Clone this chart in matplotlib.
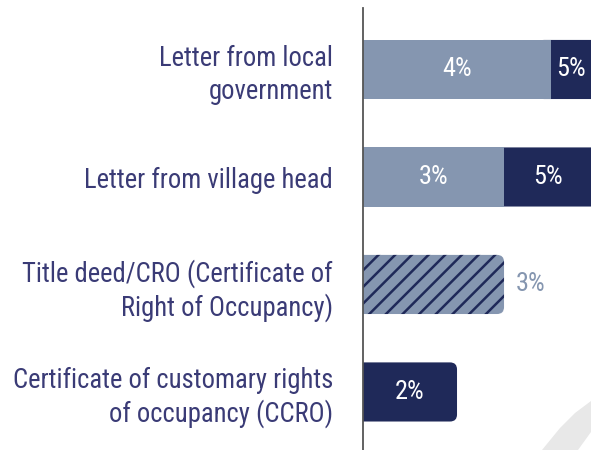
import matplotlib
matplotlib.use("Agg")
import matplotlib.pyplot as plt
from matplotlib.patches import FancyBboxPatch, Polygon

categories = ["Letter from local\ngovernment",
              "Letter from village head",
              "Title deed/CRO (Certificate of\nRight of Occupancy)",
              "Certificate of customary rights\nof occupancy (CCRO)"]
light_vals = [4, 3, 0, 0]
dark_vals = [5, 5, 0, 2]
hatched_vals = [0, 0, 3, 0]

LIGHT = "#8596b0"
DARK = "#1f2959"
TEXT = "#3a3b76"
FONT = ["Roboto Condensed", "Roboto", "DejaVu Sans"]

plt.rcParams["font.family"] = FONT
plt.rcParams["hatch.linewidth"] = 1.8

W, H = 591, 450
fig = plt.figure(figsize=(W / 100, H / 100), dpi=100)
ax_left = 363 / W
ax = fig.add_axes([ax_left, 0, 1 - ax_left, 1 - 8 / H])

XMAX = 4.85
ax.set_xlim(0, XMAX)
ax.set_ylim(3.54, -0.572)

y = list(range(len(categories)))
bh = 0.55

px_per_x = (1 - ax_left) * W / XMAX
px_per_y = (1 - 8 / H) * H / (3.54 + 0.572)
radius_px = 7
rx = radius_px / px_per_x
aspect = (1 / px_per_y) / (1 / px_per_x)


def rounded(x0, yc, w, color, hatch=None, edge=None):
    # extend the left end under the previous segment / axis so only the
    # right-hand corners show as rounded
    start = x0 - rx * 2
    width = w + (x0 - start)
    p = FancyBboxPatch((start, yc - bh / 2), width, bh,
                       boxstyle=f"round,pad=0,rounding_size={rx}",
                       mutation_aspect=aspect, facecolor=color,
                       edgecolor=edge if edge else color,
                       linewidth=0, hatch=hatch, clip_on=True, zorder=1)
    ax.add_patch(p)
    return p


PCT = 19
for i in y:
    lv, dv, hv = light_vals[i], dark_vals[i], hatched_vals[i]
    left = 0
    if lv:
        last = not (dv or hv)
        if last:
            rounded(0, i, lv, LIGHT)
        else:
            ax.barh(i, lv, left=0, height=bh, color=LIGHT, linewidth=0,
                    zorder=2)
        ax.text((0 + min(lv, XMAX)) / 2, i, f"{lv}%", ha="center", va="center",
                color="white", fontsize=PCT, zorder=3)
        left = lv
    if hv:
        rounded(left, i, hv, LIGHT, hatch="//", edge=DARK)
        ax.text(left + hv + 12 / px_per_x, i, f"{hv}%", ha="left", va="center",
                color=LIGHT, fontsize=PCT, zorder=3)
        left += hv
    if dv:
        rounded(left, i, dv, DARK)
        ax.text((left + min(left + dv, XMAX)) / 2, i, f"{dv}%", ha="center",
                va="center", color="white", fontsize=PCT, zorder=3)
        left += dv

ax.set_yticks(y)
ax.set_yticklabels(categories, fontsize=19.2, color=TEXT, linespacing=1.24)
ax.tick_params(axis="y", length=0, pad=30 * 0.72)
ax.set_xticks([])
for s in ["top", "right", "bottom"]:
    ax.spines[s].set_visible(False)
ax.spines["left"].set_color("#555555")
ax.spines["left"].set_linewidth(1.3)
ax.spines["left"].set_zorder(4)
ax.patch.set_alpha(0)

# decorative background stripe (bottom right)
pts = [(542, 450), (560, 428), (575, 413), (591, 401), (591, 432), (578, 450)]
deco = Polygon([(px / W, 1 - py / H) for px, py in pts], closed=True,
               transform=fig.transFigure, facecolor="#e8e8e8", edgecolor="none",
               zorder=-10)
fig.patches.append(deco)

fig.savefig("out.png", dpi=100)
